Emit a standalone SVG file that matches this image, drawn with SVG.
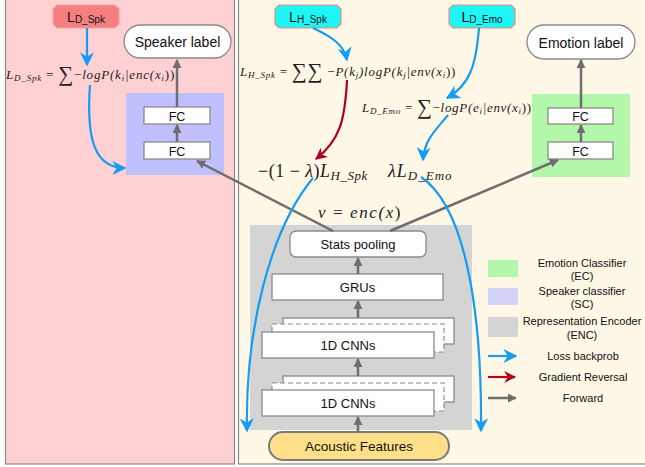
<svg xmlns="http://www.w3.org/2000/svg" width="645" height="467" viewBox="0 0 645 467">
<style>
.sans{font-family:"Liberation Sans",Arial,sans-serif;fill:#111}
.math{font-family:"Liberation Serif","Times New Roman",serif;font-style:italic;fill:#222}
.box{fill:#fff;stroke:#8a8a8a;stroke-width:1.3}
.fwd{stroke:#6e6e6e;stroke-width:2.5;fill:none}
.blue{stroke:#159cf5;stroke-width:2.2;fill:none}
.red{stroke:#b0001e;stroke-width:2.2;fill:none}
</style>
<defs>
<marker id="ag" viewBox="0 0 10 10" refX="9" refY="5" markerWidth="9" markerHeight="9" markerUnits="userSpaceOnUse" orient="auto"><path d="M0,0 L10,5 L0,10 z" fill="#6e6e6e"/></marker>
<marker id="ab" viewBox="0 0 10 10" refX="9" refY="5" markerWidth="14" markerHeight="14" markerUnits="userSpaceOnUse" orient="auto"><path d="M0,0 L10,5 L0,10 L3,5 z" fill="#159cf5"/></marker>
<marker id="ar" viewBox="0 0 10 10" refX="9" refY="5" markerWidth="12" markerHeight="12" markerUnits="userSpaceOnUse" orient="auto"><path d="M0,0 L10,5 L0,10 L3,5 z" fill="#b0001e"/></marker>
</defs>

<g id="panels">
<rect x="5.5" y="-3" width="229" height="467" fill="#ffd1d3" stroke="#8a8a8a" stroke-width="1.2"/>
<rect x="238.5" y="-3" width="410" height="467" fill="#fff8e6" stroke="#8a8a8a" stroke-width="1.2"/>
</g>

<g id="sc"><rect x="126" y="93" width="98" height="82" fill="#c0c0ff"/></g>
<g id="ec"><rect x="532" y="94" width="98" height="83" fill="#b3f8aa"/></g>
<g id="enc"><rect x="250" y="225" width="222" height="205" fill="#d4d4d4"/></g>

<g id="ld_spk">
<path d="M57,5 H115 L119,9 V24 L115,28 H57 L53,24 V9 Z" fill="#f47f7f" stroke="#f4a3a3" stroke-width="1.2"/>
<text class="sans" x="86" y="22" text-anchor="middle" font-size="14">L<tspan font-size="10" dy="1">D_Spk</tspan></text>
</g>
<g id="lh_spk">
<path d="M279,5 H337 L341,9 V24 L337,28 H279 L275,24 V9 Z" fill="#1ef5f5" stroke="#f08a80" stroke-width="1.2"/>
<text class="sans" x="308" y="22" text-anchor="middle" font-size="14">L<tspan font-size="10" dy="1">H_Spk</tspan></text>
</g>
<g id="ld_emo">
<path d="M453,5 H511 L515,9 V24 L511,28 H453 L449,24 V9 Z" fill="#1ef5f5" stroke="#f08a80" stroke-width="1.2"/>
<text class="sans" x="482" y="22" text-anchor="middle" font-size="14">L<tspan font-size="10" dy="1">D_Emo</tspan></text>
</g>

<g id="speaker_label">
<rect x="124" y="25" width="107" height="33" rx="16.5" class="box"/>
<text class="sans" x="177.5" y="47" text-anchor="middle" font-size="14">Speaker label</text>
</g>
<g id="emotion_label">
<rect x="527" y="25" width="108" height="34" rx="17" class="box"/>
<text class="sans" x="581" y="48" text-anchor="middle" font-size="14">Emotion label</text>
</g>

<g id="sc_fc2"><rect x="144" y="107" width="66" height="17" class="box"/><text class="sans" x="177" y="120.5" text-anchor="middle" font-size="12.5">FC</text></g>
<g id="sc_fc1"><rect x="144" y="142" width="66" height="17" class="box"/><text class="sans" x="177" y="155.5" text-anchor="middle" font-size="12.5">FC</text></g>
<g id="ec_fc2"><rect x="548" y="108" width="65" height="16" class="box"/><text class="sans" x="580.5" y="121" text-anchor="middle" font-size="12.5">FC</text></g>
<g id="ec_fc1"><rect x="548" y="142" width="65" height="17" class="box"/><text class="sans" x="580.5" y="155.5" text-anchor="middle" font-size="12.5">FC</text></g>

<g id="stats_pooling"><rect x="290" y="231" width="136" height="26" rx="6" class="box"/><text class="sans" x="358" y="249" text-anchor="middle" font-size="13">Stats pooling</text></g>
<g id="grus"><rect x="272" y="274" width="171" height="26" class="box"/><text class="sans" x="357.5" y="292" text-anchor="middle" font-size="13">GRUs</text></g>
<g id="cnn1">
<rect x="283" y="318" width="171" height="26" class="box"/>
<rect x="272" y="324" width="172" height="28" fill="#fff" stroke="#8a8a8a" stroke-width="1.2" stroke-dasharray="5,3"/>
<rect x="262" y="332" width="172" height="26" class="box"/>
<text class="sans" x="348" y="350" text-anchor="middle" font-size="13">1D CNNs</text>
</g>
<g id="cnn2">
<rect x="283" y="376" width="171" height="26" class="box"/>
<rect x="272" y="383" width="172" height="28" fill="#fff" stroke="#8a8a8a" stroke-width="1.2" stroke-dasharray="5,3"/>
<rect x="262" y="390" width="172" height="26" class="box"/>
<text class="sans" x="348" y="408" text-anchor="middle" font-size="13">1D CNNs</text>
</g>
<g id="acoustic"><rect x="269" y="432" width="180" height="28" rx="14" fill="#ffdf8a" stroke="#7a7a7a" stroke-width="2"/><text class="sans" x="359" y="451" text-anchor="middle" font-size="13.5">Acoustic Features</text></g>

<g id="formulas">
<text class="math" x="6" y="79" font-size="13" letter-spacing="0.8">L<tspan font-size="9" dy="2">D_Spk</tspan><tspan dy="-2" font-style="normal"> = </tspan><tspan font-size="21" font-style="normal" dy="2">∑</tspan><tspan dy="-2" font-style="normal">−</tspan>logP(k<tspan font-size="9" dy="2">i</tspan><tspan dy="-2">|enc(x</tspan><tspan font-size="9" dy="2">i</tspan><tspan dy="-2" font-style="normal">))</tspan></text>
<text class="math" x="240" y="76" font-size="13" letter-spacing="0.75">L<tspan font-size="9" dy="2">H_Spk</tspan><tspan dy="-2" font-style="normal"> = </tspan><tspan font-size="21" font-style="normal" dy="2">∑∑</tspan><tspan dy="-2" font-style="normal"> −</tspan>P(k<tspan font-size="9" dy="2">j</tspan><tspan dy="-2">)logP(k</tspan><tspan font-size="9" dy="2">j</tspan><tspan dy="-2">|env(x</tspan><tspan font-size="9" dy="2">i</tspan><tspan dy="-2" font-style="normal">))</tspan></text>
<text class="math" x="362" y="112" font-size="13" letter-spacing="0.7">L<tspan font-size="9" dy="2">D_Emo</tspan><tspan dy="-2" font-style="normal"> = </tspan><tspan font-size="21" font-style="normal" dy="2">∑</tspan><tspan dy="-2" font-style="normal">−</tspan>logP(e<tspan font-size="9" dy="2">i</tspan><tspan dy="-2">|env(x</tspan><tspan font-size="9" dy="2">i</tspan><tspan dy="-2" font-style="normal">))</tspan></text>
<text class="math" x="258" y="177" font-size="18" letter-spacing="0.5"><tspan font-style="normal">−(1 − </tspan>λ<tspan font-style="normal">)</tspan>L<tspan font-size="13" dy="3">H_Spk</tspan></text>
<text class="math" x="388" y="177" font-size="18" letter-spacing="1">λL<tspan font-size="13" dy="3">D_Emo</tspan></text>
<text class="math" x="318" y="218" font-size="17" letter-spacing="1.6">v<tspan font-style="normal"> = </tspan>enc(x<tspan font-style="normal">)</tspan></text>
</g>

<g id="connectors">
<line class="fwd" x1="358" y1="432" x2="358" y2="417" marker-end="url(#ag)"/>
<line class="fwd" x1="358" y1="376" x2="358" y2="359" marker-end="url(#ag)"/>
<line class="fwd" x1="358" y1="318" x2="358" y2="301" marker-end="url(#ag)"/>
<line class="fwd" x1="358" y1="274" x2="358" y2="258" marker-end="url(#ag)"/>
<line class="fwd" x1="333" y1="231" x2="197" y2="161" marker-end="url(#ag)"/>
<line class="fwd" x1="390" y1="231" x2="558" y2="160" marker-end="url(#ag)"/>
<line class="fwd" x1="177" y1="142" x2="177" y2="125" marker-end="url(#ag)"/>
<line class="fwd" x1="177" y1="107" x2="177" y2="60" marker-end="url(#ag)"/>
<line class="fwd" x1="581" y1="142" x2="581" y2="125" marker-end="url(#ag)"/>
<line class="fwd" x1="581" y1="108" x2="581" y2="60" marker-end="url(#ag)"/>

<line class="blue" x1="87" y1="28" x2="87" y2="65" marker-end="url(#ab)"/>
<path class="blue" d="M90,85 C86,140 95,168 125,168" marker-end="url(#ab)"/>
<path class="blue" d="M313,28 C330,36 344,44 347,60" marker-end="url(#ab)"/>
<path class="red" d="M347,80 C345,120 340,140 316,159" marker-end="url(#ar)"/>
<path class="blue" d="M479,28 C476,65 470,85 447,98" marker-end="url(#ab)"/>
<path class="blue" d="M448,115 C436,130 424,140 423,160" marker-end="url(#ab)"/>
<path class="blue" d="M313,178 C270,230 245,330 247,431" marker-end="url(#ab)"/>
<path class="blue" d="M421,177 C470,210 482,330 481,431" marker-end="url(#ab)"/>
</g>

<g id="legend">
<rect x="488" y="260" width="30" height="17" fill="#b3f8aa"/>
<rect x="488" y="288" width="30" height="17" fill="#d4d4fb"/>
<rect x="488" y="317" width="30" height="20" fill="#d4d4d4"/>
<text class="sans" x="582" y="267" text-anchor="middle" font-size="11">Emotion Classifier</text>
<text class="sans" x="582" y="280" text-anchor="middle" font-size="11">(EC)</text>
<text class="sans" x="582" y="295" text-anchor="middle" font-size="11">Speaker classifier</text>
<text class="sans" x="582" y="308" text-anchor="middle" font-size="11">(SC)</text>
<text class="sans" x="582" y="325" text-anchor="middle" font-size="11">Representation Encoder</text>
<text class="sans" x="582" y="339" text-anchor="middle" font-size="11">(ENC)</text>
<line class="blue" x1="488" y1="356" x2="516" y2="356" marker-end="url(#ab)"/>
<line class="red" x1="488" y1="377" x2="515" y2="377" marker-end="url(#ar)"/>
<line class="fwd" x1="488" y1="398" x2="516" y2="398" marker-end="url(#ag)"/>
<text class="sans" x="583" y="360" text-anchor="middle" font-size="11">Loss backprob</text>
<text class="sans" x="583" y="381" text-anchor="middle" font-size="11">Gradient Reversal</text>
<text class="sans" x="583" y="402" text-anchor="middle" font-size="11">Forward</text>
</g>
</svg>
